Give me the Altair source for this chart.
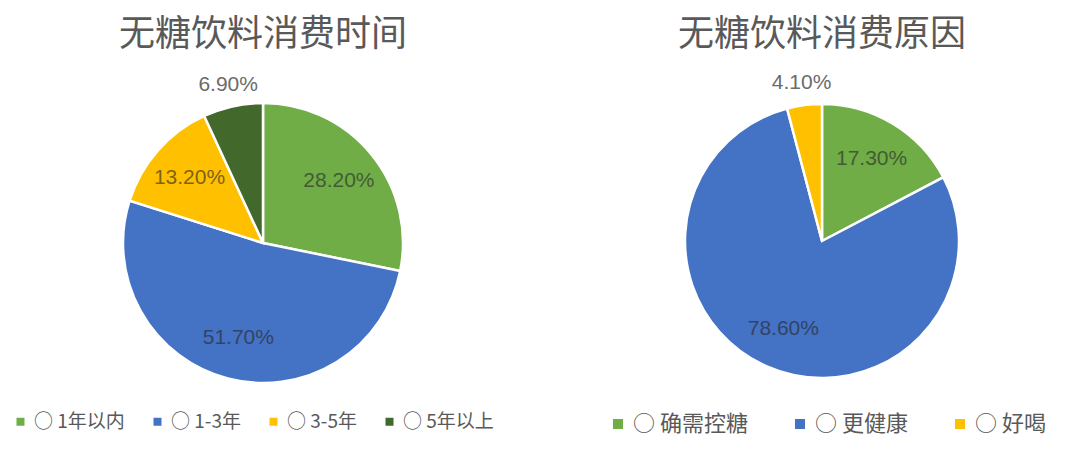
import altair as alt
import pandas as pd

# ---- data ----
title1 = "无糖饮料消费时间"
cats1 = ["1年以内", "1-3年", "3-5年", "5年以上"]
vals1 = [28.2, 51.7, 13.2, 6.9]
colors1 = ["#70AD47", "#4472C4", "#FFC000", "#43682B"]

title2 = "无糖饮料消费原因"
cats2 = ["确需控糖", "更健康", "好喝"]
vals2 = [17.3, 78.6, 4.1]
colors2 = ["#70AD47", "#4472C4", "#FFC000"]

CJK = "Noto Sans CJK SC"
NUM = "Liberation Sans Narrow, Liberation Sans, sans-serif"


def pie(title, cats, vals, colors, cx, cy, r, lx, ly, lsize, lsym, lpad, loff):
    df = pd.DataFrame({"cat": cats, "value": vals, "order": list(range(len(cats)))})
    base = alt.Chart(df).transform_calculate(
        inner="datum.value >= 10 ? format(datum.value, '.2f') + '%' : ''",
        outer="datum.value < 10 ? format(datum.value, '.2f') + '%' : ''",
    )
    arc = base.mark_arc(outerRadius=r, stroke="white", strokeWidth=2.5).encode(
        theta=alt.Theta("value:Q", stack=True),
        order=alt.Order("order:Q"),
        color=alt.Color(
            "cat:N",
            scale=alt.Scale(domain=cats, range=colors),
            legend=alt.Legend(
                orient="none",
                legendX=lx,
                legendY=ly,
                direction="horizontal",
                title=None,
                symbolType="square",
                symbolSize=lsym,
                symbolStrokeWidth=0,
                labelFont=CJK,
                labelFontSize=lsize,
                labelColor="#595959",
                labelOffset=loff,
                columnPadding=lpad,
                padding=0,
                labelExpr="'○ ' + datum.label",
            ),
        ),
        x=alt.value(cx),
        y=alt.value(cy),
    )
    inner = base.mark_text(
        radius=r * 0.7, font=NUM, fontSize=21, color="#262626", opacity=0.6
    ).encode(
        theta=alt.Theta("value:Q", stack=True),
        order=alt.Order("order:Q"),
        text="inner:N",
        x=alt.value(cx),
        y=alt.value(cy),
    )
    outer = base.mark_text(
        radius=r + 22, font=NUM, fontSize=21, color="#6b6b6b"
    ).encode(
        theta=alt.Theta("value:Q", stack=True),
        order=alt.Order("order:Q"),
        text="outer:N",
        x=alt.value(cx),
        y=alt.value(cy),
    )
    t = alt.Chart(pd.DataFrame({"t": [title]})).mark_text(
        font=CJK, fontSize=36, color="#595959", baseline="middle", align="center"
    ).encode(text="t:N", x=alt.value(cx), y=alt.value(27))
    return [arc, inner, outer, t]


layers = pie(title1, cats1, vals1, colors1, 255, 235, 140, 3, 404, 19, 64, 23, 4) + \
         pie(title2, cats2, vals2, colors2, 814, 233, 137, 599, 405, 22, 100, 41, 4)

chart = alt.layer(*layers).resolve_scale(color="independent").properties(
    width=1064, height=457, autosize=alt.AutoSizeParams(type="none"), padding=0
).configure_view(stroke=None)

chart.save("out.html", embed_options={"renderer": "svg", "actions": False})
